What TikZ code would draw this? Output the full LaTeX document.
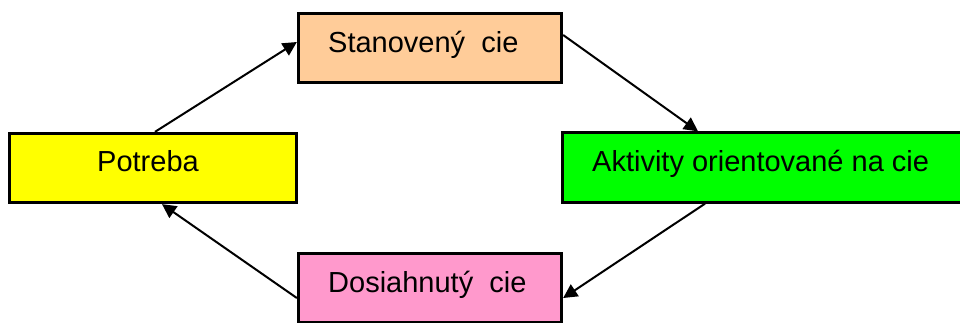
\documentclass[tikz,border=0pt]{standalone}
\usepackage{fontspec}
\setmainfont{Liberation Sans}
\usetikzlibrary{arrows.meta}
\definecolor{peach}{HTML}{FFCC99}
\definecolor{lemon}{HTML}{FFFF00}
\definecolor{lime}{HTML}{00FF00}
\definecolor{rose}{HTML}{FF99CC}
\tikzset{
  stagebox/.style={draw=black, line width=2.8pt, inner sep=0pt, minimum height=69.5pt},
  stagelabel/.style={anchor=base west, inner sep=0pt, font=\fontsize{29}{33}\selectfont},
  flow/.style={line width=2pt, -{Triangle[length=14pt,width=14pt]}},
}
\begin{document}
\begin{tikzpicture}[x=1pt,y=-1pt]
  \useasboundingbox (0,0) rectangle (960,322);
  \clip (0,0) rectangle (960,322);
  % boxes of the cycle
  \node[stagebox, fill=peach, minimum width=263.5pt] (stan) at (430,48) {};
  \node[stagebox, fill=lemon, minimum width=287.5pt] (pot) at (153,168) {};
  \node[stagebox, fill=lime, minimum width=411.5pt] (akt) at (768,167.5) {};
  \node[stagebox, fill=rose, minimum width=263.5pt] (dos) at (430,288) {};
  % labels
  \node[stagelabel] (stanT) at (328,52) {Stanovený\ \ cie};
  \node[stagelabel] (potT) at (97,171) {Potreba};
  \node[stagelabel] (aktT) at (592,171) {Aktivity orientované na cie};
  \node[stagelabel] (dosT) at (328,292) {Dosiahnutý\ \ cie};
  % connectors
  \draw[flow] ([xshift=2pt]pot.north) -- ([yshift=6pt]stan.west);
  \draw[flow] ([yshift=13pt]stan.east) -- ([xshift=-70pt]akt.north);
  \draw[flow] ([xshift=-63pt]akt.south) -- ([yshift=-10pt]dos.east);
  \draw[flow] ([yshift=-10pt]dos.west) -- ([xshift=9pt]pot.south);
\end{tikzpicture}
\end{document}
